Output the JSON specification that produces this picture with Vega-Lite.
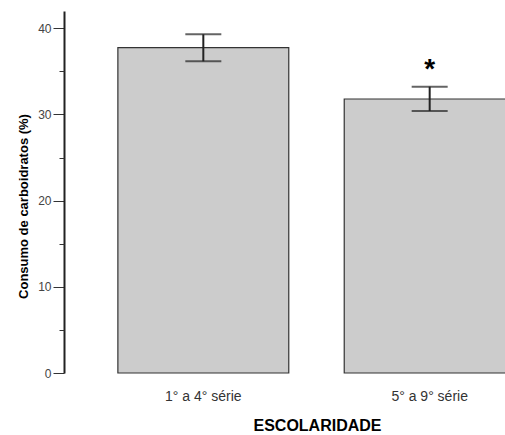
{
  "$schema": "https://vega.github.io/schema/vega-lite/v6.json",
  "width": 441,
  "height": 362,
  "autosize": {"type": "none"},
  "padding": {"left": 64, "top": 11, "right": 0, "bottom": 62},
  "background": "white",
  "config": {
    "font": "Liberation Sans",
    "view": {"stroke": null}
  },
  "data": {
    "values": [
      {"grupo": "1° a 4° série", "media": 37.74, "lo": 36.16, "hi": 39.3, "sig": ""},
      {"grupo": "5° a 9° série", "media": 31.79, "lo": 30.4, "hi": 33.22, "sig": "*"}
    ]
  },
  "encoding": {
    "x": {
      "field": "grupo",
      "type": "nominal",
      "sort": null,
      "scale": {"range": [0, 505], "paddingInner": 0.245, "paddingOuter": 0.238},
      "axis": {
        "title": "ESCOLARIDADE",
        "titleFontSize": 16,
        "titleFontWeight": "bold",
        "titleColor": "#000",
        "titleX": 253,
        "titleY": 57,
        "titleBaseline": "alphabetic",
        "domain": false,
        "ticks": false,
        "labelAngle": 0,
        "labelFontSize": 14,
        "labelColor": "#333",
        "labelPadding": 16
      }
    }
  },
  "layer": [
    {
      "mark": {"type": "bar", "fill": "#cccccc", "stroke": "#333", "strokeWidth": 1.2},
      "encoding": {
        "y": {
          "field": "media",
          "type": "quantitative",
          "scale": {"domain": [0, 42], "nice": false, "zero": true},
          "axis": {
            "orient": "left",
            "values": [0, 10, 20, 30, 40],
            "grid": false,
            "tickSize": 11,
            "tickColor": "#333",
            "tickWidth": 1,
            "domainColor": "#222",
            "domainWidth": 2,
            "labelFontSize": 12,
            "labelColor": "#444",
            "labelPadding": 2,
            "title": "Consumo de carboidratos (%)",
            "titleFontSize": 13,
            "titleFontWeight": "bold",
            "titleColor": "#000",
            "titleX": -37,
            "titleY": 195,
            "titleBaseline": "alphabetic"
          }
        }
      }
    },
    {
      "mark": {"type": "rule", "stroke": "#222", "strokeWidth": 2},
      "encoding": {
        "y": {
          "field": "lo",
          "type": "quantitative",
          "axis": {
            "orient": "left",
            "values": [5, 15, 25, 35],
            "grid": false,
            "labels": false,
            "domain": false,
            "tickSize": 5,
            "tickColor": "#333",
            "tickWidth": 1,
            "title": null
          }
        },
        "y2": {"field": "hi"}
      }
    },
    {
      "mark": {"type": "tick", "color": "#222", "size": 36, "thickness": 2},
      "encoding": {
        "y": {"field": "lo", "type": "quantitative", "axis": null}
      }
    },
    {
      "mark": {"type": "tick", "color": "#222", "size": 36, "thickness": 2},
      "encoding": {
        "y": {"field": "hi", "type": "quantitative", "axis": null}
      }
    },
    {
      "mark": {"type": "text", "fontSize": 28, "fontWeight": "bold", "color": "#000", "baseline": "alphabetic", "dy": -9},
      "encoding": {
        "y": {"field": "hi", "type": "quantitative", "axis": null},
        "text": {"field": "sig"}
      }
    }
  ],
  "resolve": {"axis": {"y": "independent"}}
}
